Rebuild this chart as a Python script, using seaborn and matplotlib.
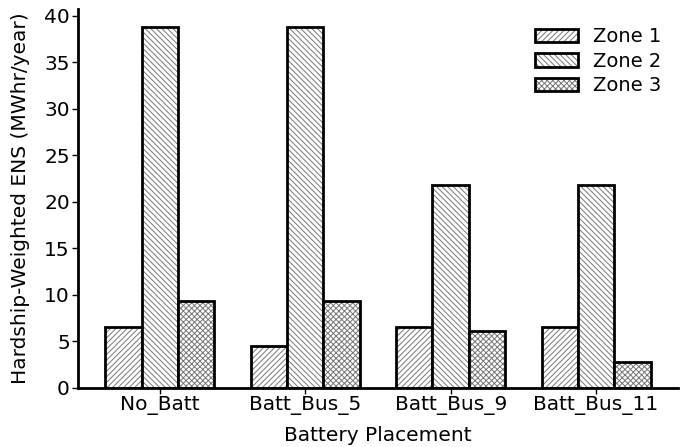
import matplotlib
matplotlib.use("Agg")
import matplotlib.pyplot as plt
from matplotlib.patches import Patch
from matplotlib.colors import to_rgba
import seaborn as sns
import pandas as pd

placements = ["No_Batt", "Batt_Bus_5", "Batt_Bus_9", "Batt_Bus_11"]
zones = ["Zone 1", "Zone 2", "Zone 3"]
zone1 = [6.6, 4.5, 6.6, 6.6]
zone2 = [38.8, 38.8, 21.8, 21.8]
zone3 = [9.3, 9.3, 6.1, 2.8]
hatches = ["//////", "\\\\\\\\\\\\", "xxxxxx"]

df = pd.DataFrame({
    "Battery Placement": placements * 3,
    "Zone": [z for z in zones for _ in placements],
    "ENS": zone1 + zone2 + zone3,
})

sns.set_style("white")
plt.rcParams["font.family"] = ["DejaVu Sans"]
plt.rcParams["hatch.linewidth"] = 0.7
plt.rcParams["text.color"] = "black"
plt.rcParams["axes.labelcolor"] = "black"
plt.rcParams["xtick.color"] = "black"
plt.rcParams["ytick.color"] = "black"

fig = plt.figure(figsize=(6.86, 4.47), dpi=100)
ax = fig.add_axes([0.114, 0.132, 0.874, 0.848])

sns.barplot(data=df, x="Battery Placement", y="ENS", hue="Zone",
            hue_order=zones, order=placements, width=0.75,
            color="white", saturation=1, legend=False, ax=ax)

hatch_gray = to_rgba("#777777")
for i, container in enumerate(ax.containers):
    for bar in container:
        bar.set_facecolor("white")
        bar.set_edgecolor("black")
        bar.set_linewidth(2)
        bar.set_hatch(hatches[i])
        bar._hatch_color = hatch_gray

handles = []
for z, h in zip(zones, hatches):
    p = Patch(facecolor="white", edgecolor="black", linewidth=2, hatch=h, label=z)
    p._hatch_color = hatch_gray
    handles.append(p)
ax.legend(handles=handles, loc="upper right", frameon=False, fontsize=14,
          handlelength=2.2, handleheight=0.7, labelspacing=0.28,
          borderaxespad=0.6, bbox_to_anchor=(1.005, 1.003))

ax.set_xlim(-0.5625, 3.5625)
ax.set_xlabel("Battery Placement", fontsize=14.5, labelpad=8)
ax.set_ylabel("Hardship-Weighted ENS (MWhr/year)", fontsize=14.5, labelpad=10)
ax.set_yticks(range(0, 41, 5))
ax.tick_params(axis="both", labelsize=14.5, length=4, width=1, direction="out",
               pad=2, bottom=True, left=True)
for side in ["top", "right"]:
    ax.spines[side].set_visible(False)
for side in ["left", "bottom"]:
    ax.spines[side].set_linewidth(2)
    ax.spines[side].set_color("black")

fig.savefig("out.png", dpi=100)
